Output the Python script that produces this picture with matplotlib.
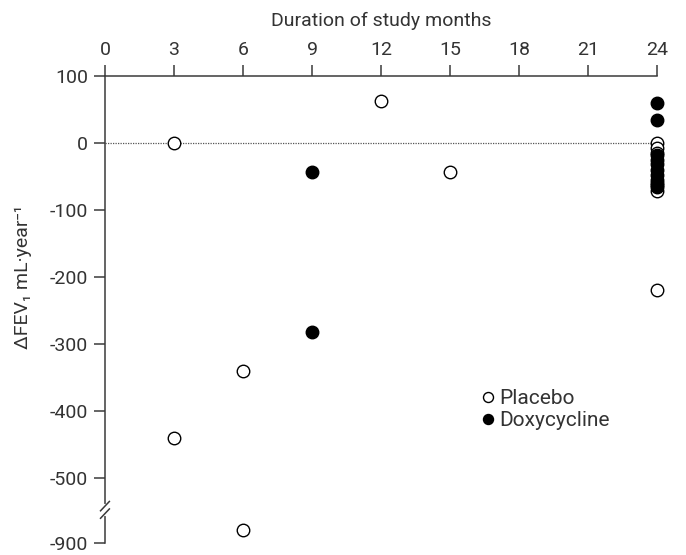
import numpy as np
import matplotlib
matplotlib.use("Agg")
import matplotlib.pyplot as plt
from matplotlib.lines import Line2D

plt.rcParams["font.family"] = ["Roboto", "DejaVu Sans"]

# data
placebo_x = [3, 12, 15, 3, 6, 6, 24, 24, 24, 24, 24, 24]
placebo_y = [0, 63, -43, -440, -340, -880, -220, 0, -8, -15, -62, -72]
doxy_x = [9, 9, 24, 24, 24, 24, 24, 24, 24, 24, 24, 24]
doxy_y = [-43, -282, 60, 35, -18, -25, -32, -40, -48, -55, -60, -65]

x_ticks = [0, 3, 6, 9, 12, 15, 18, 21, 24]
y_ticks = [100, 0, -100, -200, -300, -400, -500, -900]

# broken y axis: compress the gap between -500 and -900
data_pts = [-1000, -900, -850, -500, 200]
disp_pts = [-697, -597, -547, -500, 200]


def fwd(v):
    return np.interp(v, data_pts, disp_pts)


def inv(v):
    return np.interp(v, disp_pts, data_pts)


TXT = "#333333"
LINE = "#3a3a3a"

fig = plt.figure(figsize=(6.86, 5.55), dpi=100)
ax = fig.add_axes([0.153, 0.0216, 0.805, 0.8414])
ax.set_yscale("function", functions=(fwd, inv))

ax.axhline(0, color="#555555", lw=0.9, ls=(0, (1, 1)), zorder=1)

ax.plot(placebo_x, placebo_y, "o", ms=9, mfc="white", mec="black", mew=1.0,
        clip_on=False, zorder=3, label="Placebo")
ax.plot(doxy_x, doxy_y, "o", ms=9, mfc="black", mec="black", mew=1.0,
        clip_on=False, zorder=4, label="Doxycycline")

ax.set_xlim(0, 24)
ax.set_ylim(-900, 100)
ax.xaxis.tick_top()
ax.xaxis.set_label_position("top")
ax.set_xticks(x_ticks)
ax.set_yticks(y_ticks)
ax.set_yticklabels([str(t) for t in y_ticks])
ax.tick_params(axis="both", direction="out", length=8, width=1.1, color=LINE,
               labelsize=14, labelcolor=TXT, pad=4)

for s in ["right", "bottom"]:
    ax.spines[s].set_visible(False)
for s in ["top", "left"]:
    ax.spines[s].set_color(LINE)
    ax.spines[s].set_linewidth(1.1)

ax.set_xlabel("Duration of study months", fontsize=14, color=TXT, labelpad=11)
ax.set_ylabel("ΔFEV₁ mL·year⁻¹", fontsize=14, color=TXT)
ax.yaxis.set_label_coords(-0.133, 0.57)

# axis break marks
yb = 0.071
ax.add_line(Line2D([0, 0], [yb - 0.008, yb + 0.008], transform=ax.transAxes,
                   color="white", lw=3, clip_on=False, zorder=5))
for dy in (-0.008, 0.008):
    ax.add_line(Line2D([-0.008, 0.008], [yb + dy - 0.01, yb + dy + 0.01],
                       transform=ax.transAxes, color=LINE, lw=1.1,
                       clip_on=False, zorder=6))

leg = ax.legend(loc="upper left", bbox_to_anchor=(0.65, 0.37), frameon=False,
                fontsize=15, handlelength=0.5, handletextpad=0.3,
                labelspacing=0.15, markerscale=0.8)
for t in leg.get_texts():
    t.set_color(TXT)

fig.savefig("out.png", dpi=100)
